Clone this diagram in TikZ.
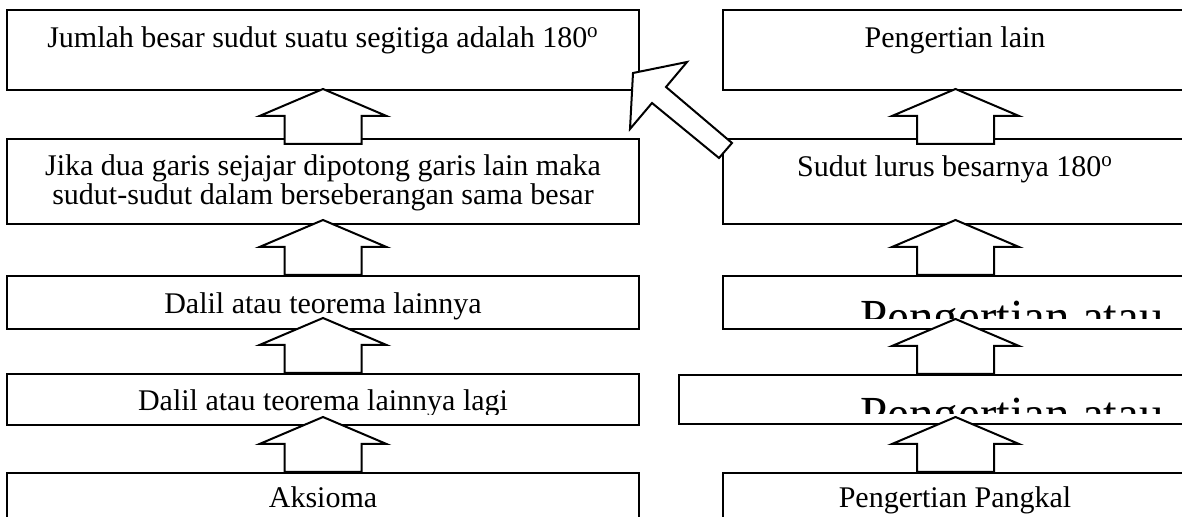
\documentclass[tikz,border=0pt]{standalone}
\usepackage{fontspec}
\setmainfont{Liberation Serif}
\usetikzlibrary{fit}

\begin{document}
\begin{tikzpicture}[x=0.5pt, y=-0.5pt,
    box/.style={draw, line width=1pt, inner sep=0pt, fit={#1}},
    lbl/.style={anchor=base, inner sep=0pt, font=\fontsize{15pt}{14.5pt}\selectfont},
    biglbl/.style={anchor=base, inner sep=0pt, font=\fontsize{24.5pt}{29pt}\selectfont},
    blockup/.pic={\draw[line width=1pt, fill=white] (-38.5,0) -- (-38.5,-28) -- (-63.5,-28) -- (0,-55) -- (63.5,-28) -- (38.5,-28) -- (38.5,0) -- cycle;}]
    \clip (0,0) rectangle (1182,517);

    % Left column (theorems)
    \node[box={(7,10)(639,90)}] (jumlah) {};
    \node[box={(7,139)(639,224)}] (sejajar) {};
    \node[box={(7,276)(639,329)}] (dalil) {};
    \node[box={(7,374)(639,425)}] (dalillagi) {};
    \node[box={(7,473)(639,560)}] (aksioma) {};

    \node[lbl] (tjumlah) at (323,48) {Jumlah besar sudut suatu segitiga adalah 180\textsuperscript{o}};
    \node[lbl] (tsejajar1) at (323,176) {Jika dua garis sejajar dipotong garis lain maka};
    \node[lbl] (tsejajar2) at (323,205) {sudut-sudut dalam berseberangan sama besar};
    \node[lbl] (tdalil) at (323,314) {Dalil atau teorema lainnya};
    \begin{scope}
        \clip (7,374) rectangle (639,414.5);
        \node[lbl] (tdalillagi) at (323,411) {Dalil atau teorema lainnya lagi};
    \end{scope}
    \node[lbl] (taksioma) at (323,508) {Aksioma};

    % Right column (definitions)
    \node[box={(723,10)(1188,90)}] (lain) {};
    \node[box={(723,139)(1188,224)}] (lurus) {};
    \node[box={(723,276)(1188,329)}] (atau) {};
    \node[box={(679,375)(1232,424)}] (atau2) {};
    \node[box={(723,473)(1188,560)}] (pangkal) {};

    \node[lbl] (tlain) at (955,48) {Pengertian lain};
    \node[lbl] (tlurus) at (955,177) {Sudut lurus besarnya 180\textsuperscript{o}};
    \begin{scope}
        \clip (723,276) rectangle (1188,319);
        \node[biglbl, anchor=base west] (tatau) at (860,333.5) {Pengertian atau};
    \end{scope}
    \begin{scope}
        \clip (679,375) rectangle (1232,414);
        \node[biglbl, anchor=base west] (tatau2) at (860,430.5) {Pengertian atau};
    \end{scope}
    \node[lbl] (tpangkal) at (955,508) {Pengertian Pangkal};

    % Block arrows
    \pic at ([yshift=-3pt]sejajar.north) {blockup};
    \pic at (dalil.north) {blockup};
    \pic at (dalillagi.north) {blockup};
    \pic at (aksioma.north) {blockup};

    \pic at ([yshift=-3pt]lurus.north) {blockup};
    \pic at (atau.north) {blockup};
    \pic at (atau2.north) {blockup};
    \pic at (pangkal.north) {blockup};

    % Slanted arrow from the straight angle to the triangle
    \draw[line width=1pt, fill=white] (633,73) -- (687,62) -- (666,87) -- (732,143) -- (719,158) -- (652,103) -- (630,129) -- cycle;
\end{tikzpicture}
\end{document}
